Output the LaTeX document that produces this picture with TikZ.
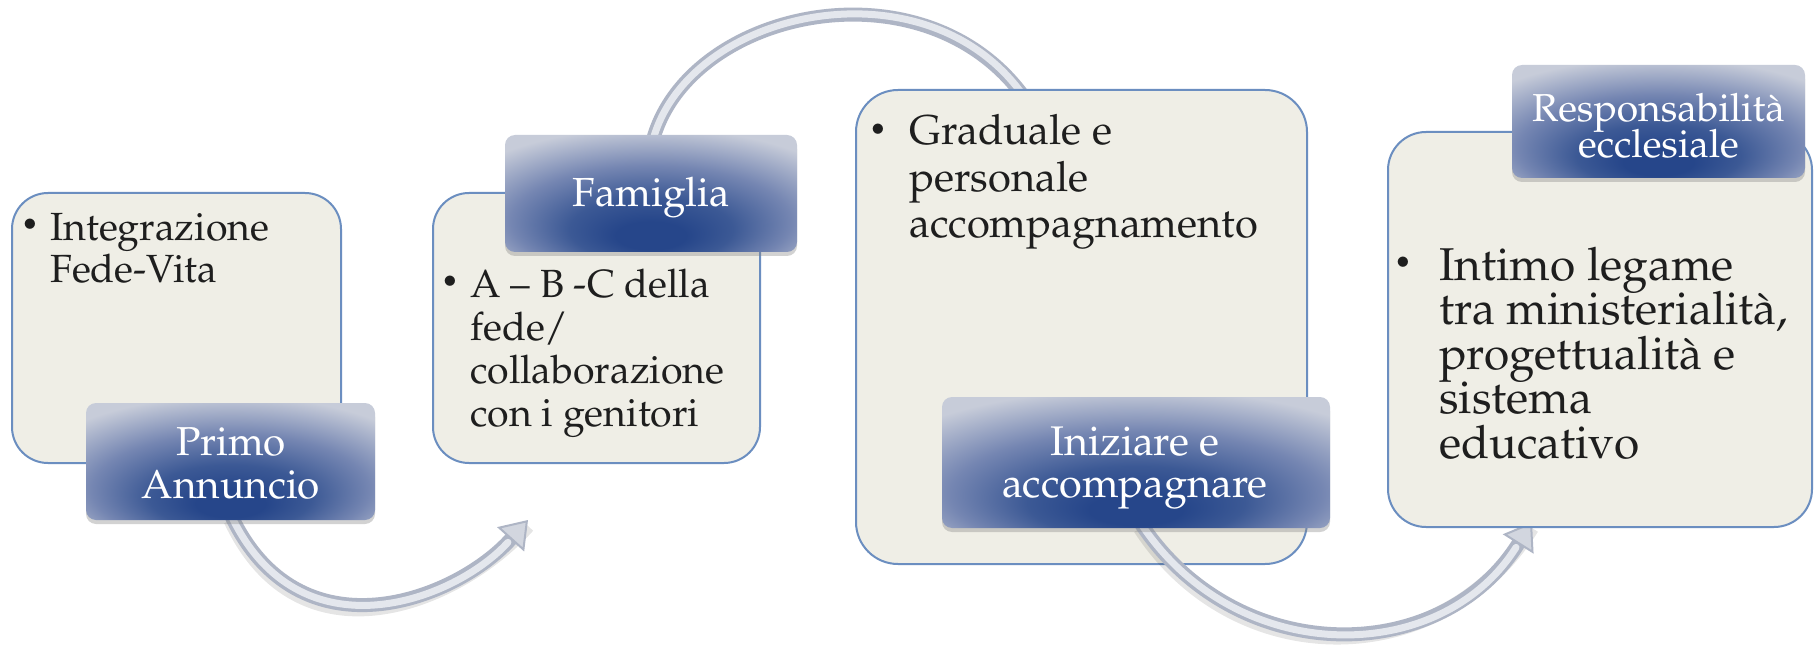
\documentclass[tikz,border=0pt]{standalone}
\usepackage[T1]{fontenc}
\renewcommand{\rmdefault}{ppl}
\usetikzlibrary{arrows.meta,shadows}
\definecolor{boxfill}{HTML}{EFEEE6}
\definecolor{boxline}{HTML}{6B8EC0}
\definecolor{labdark}{HTML}{26468A}
\definecolor{labdark2}{HTML}{3C5995}
\definecolor{labmid}{HTML}{7586B2}
\definecolor{lablight}{HTML}{C7CCD9}
\definecolor{arrowedge}{HTML}{AEB5C5}
\definecolor{arrowin}{HTML}{E4E7ED}
\definecolor{arrowtip}{HTML}{D2D6DF}
\definecolor{txt}{HTML}{1E1E1E}
\pgfdeclareradialshading{labshade}{\pgfpoint{0bp}{-20bp}}{color(0bp)=(labdark); color(6bp)=(labdark); color(14bp)=(labdark2); color(24bp)=(labmid); color(36bp)=(lablight); color(60bp)=(lablight)}
\pgfdeclarelayer{back}\pgfdeclarelayer{lay0}\pgfdeclarelayer{lay1}\pgfdeclarelayer{lay2}\pgfdeclarelayer{lay3}
\pgfsetlayers{back,lay0,lay1,lay2,lay3,main}
\newcommand{\linesL}[1]{\vtop{\lineskiplimit=-\maxdimen\halign{##\hfil\cr#1\crcr}}}
\newcommand{\linesC}[1]{\vtop{\lineskiplimit=-\maxdimen\halign{\hfil##\hfil\cr#1\crcr}}}
\tikzset{
  box/.style={draw=boxline, line width=2pt, fill=boxfill, rounded corners=36pt, inner sep=0pt},
  lab/.style={rounded corners=10pt, shade, shading=labshade, inner sep=0pt,
    drop shadow={opacity=0.35, shadow xshift=0pt, shadow yshift=-4pt}},
  arrowbody/.style={line width=14pt, draw=arrowedge,
    -{Triangle[length=26pt,width=36pt,fill=arrowtip,line width=2pt]}},
  arrowhi/.style={line width=7pt, draw=arrowin, line cap=round, shorten >=30pt},
  arrowshadow/.style={line width=14pt, draw=black, opacity=0.10, transform canvas={yshift=-6pt}},
  bodytxt/.style={inner sep=0pt, anchor=base west, text=txt},
  labtxt/.style={inner sep=0pt, anchor=base, text=white},
  bul/.style={inner sep=0pt, text=txt, font=\fontsize{30}{30}\selectfont}
}
\begin{document}
\begin{tikzpicture}[x=1pt,y=-1pt]
\begin{pgfonlayer}{back}
\fill[white] (0,0) rectangle (1814,652);
\end{pgfonlayer}
\useasboundingbox (0,0) rectangle (1814,652);

% boxes
\begin{pgfonlayer}{lay0}
\node[box, minimum width=329pt, minimum height=270pt] (b1) at (176.5,328) {};
\node[box, minimum width=327pt, minimum height=270pt] (b2) at (596.5,328) {};
\end{pgfonlayer}
\begin{pgfonlayer}{lay1}
\node[box, rounded corners=42pt, minimum width=451pt, minimum height=474pt] (b3) at (1081.5,327) {};
\end{pgfonlayer}
\begin{pgfonlayer}{lay3}
\node[box, rounded corners=38pt, minimum width=424pt, minimum height=395pt] (b4) at (1600,329.5) {};
% labels
\node[lab, minimum width=289pt, minimum height=117pt] (l1) at (230.5,461.5) {};
\node[lab, minimum width=292pt, minimum height=117pt] (l2) at (651,193.5) {};
\node[lab, minimum width=388pt, minimum height=131pt] (l3) at (1136,462.5) {};
\end{pgfonlayer}
\node[lab, minimum width=293pt, minimum height=113pt] (l4) at (1658.5,121.5) {};

\coordinate (a1tip) at (528,520);

% connectors
\begin{pgfonlayer}{lay0}
\draw[arrowbody] ([xshift=2pt,yshift=-5pt]l2.north) .. controls (690,5) and (940,-45) .. ([xshift=-34.5pt,yshift=-45pt]b3.north);
\draw[arrowhi] ([xshift=2pt,yshift=-5pt]l2.north) .. controls (690,5) and (940,-45) .. ([xshift=-34.5pt,yshift=-45pt]b3.north);
\end{pgfonlayer}
\begin{pgfonlayer}{lay1}
\draw[arrowshadow] ([yshift=6pt]l1.south) .. controls (299,661) and (456,600) .. (a1tip);
\draw[arrowbody] ([yshift=6pt]l1.south) .. controls (299,661) and (456,600) .. (a1tip);
\draw[arrowhi] ([yshift=6pt]l1.south) .. controls (299,661) and (456,600) .. (a1tip);
\end{pgfonlayer}
\begin{pgfonlayer}{lay2}
\draw[arrowshadow] ([xshift=4pt,yshift=6pt]l3.south) .. controls (1235,668) and (1440,668) .. ([xshift=-68pt,yshift=6pt]b4.south);
\draw[arrowbody] ([xshift=4pt,yshift=6pt]l3.south) .. controls (1235,668) and (1440,668) .. ([xshift=-68pt,yshift=6pt]b4.south);
\draw[arrowhi] ([xshift=4pt,yshift=6pt]l3.south) .. controls (1235,668) and (1440,668) .. ([xshift=-68pt,yshift=6pt]b4.south);
\end{pgfonlayer}

% bullets
\node[bul] (u1) at (30,227) {\textbullet};
\node[bul] (u2) at (450,284) {\textbullet};
\node[bul] (u3) at (878,132) {\textbullet};
\node[bul] (u4) at (1403,265) {\textbullet};

% body texts
\node[bodytxt, font=\fontsize{39.3}{42}\selectfont] (t1) at (50,241) {\linesL{Integrazione\cr Fede-Vita}};
\node[bodytxt, font=\fontsize{39.3}{43.3}\selectfont] (t2) at (470,297) {\linesL{A -- B -C della\cr fede/\cr collaborazione\cr con i genitori}};
\node[bodytxt, font=\fontsize{41.7}{46.5}\selectfont] (t3) at (909,145) {\linesL{Graduale e\cr personale\cr accompagnamento}};
\node[bodytxt, font=\fontsize{46}{44.5}\selectfont] (t4) at (1439,280) {\linesL{Intimo legame\cr tra ministerialit\`a,\cr progettualit\`a e\cr sistema\cr educativo}};

% label texts
\node[labtxt, font=\fontsize{40.4}{43}\selectfont] (lt1) at (231,455) {\linesC{Primo\cr Annuncio}};
\node[labtxt, font=\fontsize{40.6}{43}\selectfont] (lt2) at (651,207) {Famiglia};
\node[labtxt, font=\fontsize{41.4}{42}\selectfont] (lt3) at (1135,455) {\linesC{Iniziare e\cr accompagnare}};
\node[labtxt, font=\fontsize{39}{36}\selectfont] (lt4) at (1658.5,122) {\linesC{Responsabilit\`a\cr ecclesiale}};
\end{tikzpicture}
\end{document}
